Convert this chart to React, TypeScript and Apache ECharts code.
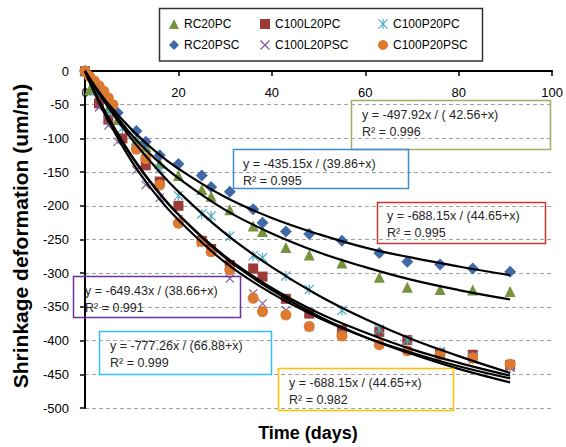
import { useEffect, useRef } from "react";
import * as echarts from "echarts";

// ---- measured data (days, um/m) ----
const rc20pcDays = [0, 1, 3, 5, 7, 11, 13, 16, 20, 25, 27, 31, 36, 38, 43, 48, 55, 63, 69, 76, 83, 91];
const rc20pcVals = [0, -28, -38, -55, -72, -102, -112, -137, -155, -176, -186, -206, -230, -238, -262, -273, -285, -306, -321, -324, -325, -327];

const rc20pscDays = [0, 3, 5, 7, 11, 13, 16, 20, 25, 27, 31, 36, 38, 43, 48, 55, 63, 69, 76, 83, 91];
const rc20pscVals = [0, -28, -45, -62, -89, -105, -125, -138, -155, -172, -179, -205, -225, -238, -242, -252, -270, -283, -287, -293, -298];

const c100p20pcDays = [0, 2, 5, 8, 11, 13, 16, 20, 25, 27, 31, 36, 38, 43, 48, 55, 63, 69, 76, 83, 91];
const c100p20pcVals = [0, -30, -62, -85, -105, -118, -145, -185, -212, -215, -245, -274, -277, -304, -324, -355, -383, -399, -416, -424, -439];

const c100l20pcDays = [0, 3, 5, 8, 13, 16, 20, 25, 27, 31, 36, 38, 43, 48, 55, 63, 69, 76, 83, 91];
const c100l20pcVals = [0, -48, -72, -100, -140, -164, -200, -252, -264, -288, -293, -305, -338, -360, -384, -387, -399, -419, -421, -436];

const c100l20pscDays = [0, 3, 5, 7, 11, 13, 16, 20, 25, 27, 31, 36, 38, 43, 48, 55, 63, 69, 76, 83, 91];
const c100l20pscVals = [0, -54, -81, -105, -147, -169, -188, -220, -255, -268, -308, -330, -345, -355, -380, -390, -405, -415, -422, -428, -440];

const c100p20pscDays = [0, 1, 2, 3, 4, 5, 6, 11, 13, 16, 20, 25, 27, 31, 36, 38, 43, 48, 55, 63, 69, 76, 83, 91];
const c100p20pscVals = [0, -8, -15, -22, -30, -40, -50, -116, -130, -169, -226, -253, -268, -295, -337, -357, -362, -379, -393, -406, -415, -421, -426, -435];

// ---- trend curves ----
const trendDays = [0, 2, 5, 10, 15, 20, 30, 40, 50, 60, 70, 80, 91];
const trendRC20PSC = [0, -21, -49, -87, -119, -145, -187, -218, -242, -262, -277, -290, -303];
const trendRC20PC = [0, -22, -52, -95, -130, -159, -206, -241, -269, -291, -310, -325, -339];
const trendC100P20PC = [0, -23, -54, -101, -142, -179, -241, -291, -333, -368, -398, -423, -448];
const trendC100L20PSC = [0, -32, -74, -134, -182, -221, -284, -330, -366, -395, -418, -438, -456];
const trendC100L20PC = [0, -30, -69, -126, -173, -213, -277, -325, -364, -395, -420, -442, -462];
const trendC100P20PSC = [0, -30, -70, -127, -174, -213, -275, -322, -359, -388, -413, -433, -452];

const xTicks = [0, 20, 40, 60, 80, 100];

const annotations = [
  { eq: "y = -497.92x / ( 42.56+x)", r2: "R² = 0.996" },
  { eq: "y = -435.15x / (39.86+x)", r2: "R² = 0.995" },
  { eq: "y = -688.15x / (44.65+x)", r2: "R² = 0.995" },
  { eq: "y = -649.43x / (38.66+x)", r2: "R² = 0.991" },
  { eq: "y = -777.26x / (66.88+x)", r2: "R² = 0.999" },
  { eq: "y = -688.15x / (44.65+x)", r2: "R² = 0.982" },
];

const FONT = "'Liberation Sans', Arial, sans-serif";

const ASTERISK =
  "path://M4.4,0L5.6,0L5.6,10L4.4,10ZM0,0.8L0.8,0L10,9.2L9.2,10ZM9.2,0L10,0.8L0.8,10L0,9.2Z";
const XMARK = "path://M0,0.9L0.9,0L10,9.1L9.1,10ZM9.1,0L10,0.9L0.9,10L0,9.1Z";

const pairs = (xs: number[], ys: number[]) => xs.map((x, i) => [x, ys[i]]);

export default function App() {
  const ref = useRef<HTMLDivElement>(null);
  useEffect(() => {
    if (!ref.current) return;
    const chart = echarts.init(ref.current, undefined, { renderer: "svg" });

    const markers = [
      { name: "RC20PC", days: rc20pcDays, vals: rc20pcVals, symbol: "triangle", size: 11, color: "#77933C" },
      { name: "C100L20PC", days: c100l20pcDays, vals: c100l20pcVals, symbol: "rect", size: 10, color: "#9E3B38" },
      { name: "C100P20PC", days: c100p20pcDays, vals: c100p20pcVals, symbol: ASTERISK, size: 10, color: "#4BACC6" },
      { name: "RC20PSC", days: rc20pscDays, vals: rc20pscVals, symbol: "diamond", size: 12, color: "#4069A8" },
      { name: "C100L20PSC", days: c100l20pscDays, vals: c100l20pscVals, symbol: XMARK, size: 9, color: "#7E5FA0" },
      { name: "C100P20PSC", days: c100p20pscDays, vals: c100p20pscVals, symbol: "circle", size: 11, color: "#DC7A31" },
    ];
    const trends = [trendRC20PSC, trendRC20PC, trendC100P20PC, trendC100L20PSC, trendC100L20PC, trendC100P20PSC];

    const legendPos = [
      { left: 169, top: 18 },
      { left: 260, top: 18 },
      { left: 378, top: 18 },
      { left: 169, top: 39 },
      { left: 260, top: 39 },
      { left: 378, top: 39 },
    ];

    const boxes = [
      { x: 351, y: 100, w: 199, h: 49, tx: 362, ty: 115, color: "#9BB065" },
      { x: 233, y: 149, w: 175, h: 39, tx: 243, ty: 164, color: "#3C8CD0" },
      { x: 377, y: 202, w: 168, h: 41, tx: 387, ty: 216, color: "#CC3333" },
      { x: 73, y: 276, w: 167, h: 41, tx: 85, ty: 291, color: "#7030A0" },
      { x: 99, y: 331, w: 172, h: 43, tx: 110, ty: 346, color: "#33C0F0" },
      { x: 278, y: 368, w: 175, h: 42, tx: 289, ty: 383, color: "#FFC000" },
    ];

    const graphic: any[] = [
      {
        type: "rect",
        shape: { x: 159.5, y: 8.5, width: 323, height: 52.5 },
        style: { fill: "none", stroke: "#333", lineWidth: 1.5 },
        z: 10,
      },
      {
        type: "text",
        x: 308,
        y: 433,
        style: { text: "Time (days)", font: `bold 18px ${FONT}`, fill: "#000", align: "center", verticalAlign: "middle" },
      },
      {
        type: "text",
        x: 20,
        y: 236,
        rotation: Math.PI / 2,
        style: {
          text: "Shrinkage deformation (um/m)",
          font: `bold 21px ${FONT}`,
          fill: "#000",
          align: "center",
          verticalAlign: "middle",
        },
      },
    ];
    boxes.forEach((b, i) => {
      graphic.push({
        type: "rect",
        shape: { x: b.x + 0.5, y: b.y + 0.5, width: b.w, height: b.h },
        style: { fill: "none", stroke: b.color, lineWidth: 1.5 },
        z: 20,
      });
      graphic.push({
        type: "text",
        x: b.tx,
        y: b.ty,
        style: { text: annotations[i].eq, font: `12.5px ${FONT}`, fill: "#262626", verticalAlign: "middle" },
        z: 20,
      });
      graphic.push({
        type: "text",
        x: b.tx,
        y: b.ty + 17,
        style: { text: annotations[i].r2, font: `12.5px ${FONT}`, fill: "#262626", verticalAlign: "middle" },
        z: 20,
      });
    });

    const option: any = {
      animation: false,
      grid: { left: 85, top: 71, width: 468, height: 337, containLabel: false },
      legend: markers.map((m, i) => ({
        left: legendPos[i].left,
        top: legendPos[i].top,
        padding: 0,
        itemWidth: 10,
        itemHeight: 10,
        data: [{ name: m.name, icon: m.symbol }],
        textStyle: { fontFamily: FONT, fontSize: 12, color: "#000" },
        selectedMode: false,
      })),
      xAxis: {
        type: "value",
        position: "top",
        min: 0,
        max: 100,
        interval: 20,
        axisLine: { onZero: false, lineStyle: { color: "#000", width: 2 } },
        axisTick: { inside: true, length: 5, lineStyle: { color: "#000", width: 1.5 } },
        axisLabel: {
          inside: true,
          margin: 15,
          fontFamily: FONT,
          fontSize: 13,
          color: "#000",
          formatter: (v: number) => (xTicks.includes(v) ? String(v) : ""),
        },
        splitLine: { show: false },
      },
      yAxis: {
        type: "value",
        min: -500,
        max: 0,
        interval: 50,
        axisLine: { onZero: false, lineStyle: { color: "#000", width: 2 } },
        axisTick: { inside: false, length: 5, lineStyle: { color: "#000", width: 1.5 } },
        axisLabel: { margin: 16, fontFamily: FONT, fontSize: 13, color: "#000" },
        splitLine: { show: true, lineStyle: { color: "#A0A0A0", type: [4, 3], width: 1 } },
      },
      graphic,
      series: [
        ...markers.map((m) => ({
          name: m.name,
          type: "scatter",
          symbol: m.symbol,
          symbolSize: m.size,
          itemStyle: { color: m.color, opacity: 1 },
          data: pairs(m.days, m.vals),
          z: 2,
        })),
        ...trends.map((t, i) => ({
          name: "trend" + i,
          type: "line",
          data: pairs(trendDays, t),
          showSymbol: false,
          symbol: "none",
          smooth: 0.4,
          lineStyle: { color: "#000", width: 2.2 },
          z: 3,
          silent: true,
        })),
      ],
    };
    chart.setOption(option);
    return () => chart.dispose();
  }, []);
  return (
    <div
      ref={ref}
      style={{ position: "fixed", left: 0, top: 0, width: 566, height: 447, background: "#fff" }}
    />
  );
}
